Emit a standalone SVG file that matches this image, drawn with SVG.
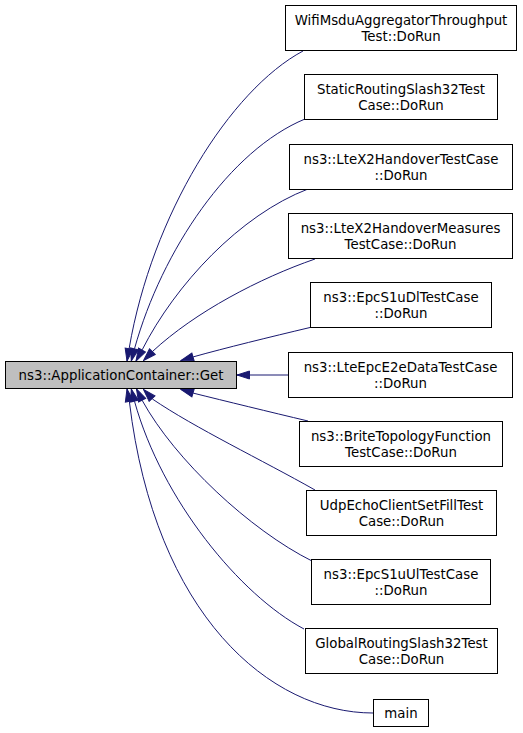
<svg xmlns="http://www.w3.org/2000/svg" width="523" height="733" viewBox="0 0 523 733">
<style>
.node rect{fill:#ffffff;stroke:#000000;stroke-width:1}
.node.root rect{fill:#bfbfbf}
.node text{font-family:"DejaVu Sans","Liberation Sans",sans-serif;font-size:13.33px;text-anchor:middle;fill:#000000}
.edges path{fill:none;stroke:#191970;stroke-width:1;marker-end:url(#arr)}
</style>
<defs>
<marker id="arr" markerUnits="userSpaceOnUse" viewBox="-1 -1 14 10" markerWidth="14" markerHeight="10" refX="12.5" refY="4" orient="auto">
<path d="M0,0 L12.5,4 L0,8 Z" fill="#191970" stroke="#191970" stroke-width="1"/>
</marker>
</defs>
<rect x="0" y="0" width="523" height="733" fill="#ffffff"/>
<g id="edges" class="edges">
<path d="M303,51 C230,90 152,215 129.2,348.2 L127,361"/>
<path d="M305,119 C230,150 162,250 134.6,348.4 L131.3,361"/>
<path d="M308,189 C240,215 175,285 142.3,349.6 L136,361"/>
<path d="M315,259 C260,278 195,312 152.7,351.3 L143.5,360.5"/>
<path d="M310,327.5 C270,337 225,348 193.5,356.8 L181,360.5"/>
<path d="M288,375 L237,375"/>
<path d="M308,421 C270,412 225,401 193.5,393.2 L181,389.5"/>
<path d="M315,490 C262,460 195,428 152.4,399 L143.5,389.5"/>
<path d="M312,561 C250,530 175,460 142.3,400.6 L136.5,389"/>
<path d="M304,629 C240,595 162,500 134.6,401.6 L131.3,389"/>
<path d="M373,713 C270,713 155,615 129.4,401.8 L127,389"/>
</g>
<g id="node-root" class="node root">
<rect x="5.5" y="361.5" width="231" height="27"/>
<text x="121" y="379.7">ns3::ApplicationContainer::Get</text>
</g>
<g id="node-wifi" class="node">
<rect x="285.5" y="5.5" width="231" height="45"/>
<text x="401" y="25">WifiMsduAggregatorThroughput</text>
<text x="401" y="40.5">Test::DoRun</text>
</g>
<g id="node-static" class="node">
<rect x="304.5" y="74.5" width="193" height="45"/>
<text x="401" y="94">StaticRoutingSlash32Test</text>
<text x="401" y="109.5">Case::DoRun</text>
</g>
<g id="node-ltex2" class="node">
<rect x="289.5" y="144.5" width="223" height="45"/>
<text x="401" y="164">ns3::LteX2HandoverTestCase</text>
<text x="401" y="179.5">::DoRun</text>
</g>
<g id="node-measures" class="node">
<rect x="288.5" y="213.5" width="224" height="45"/>
<text x="400.5" y="233">ns3::LteX2HandoverMeasures</text>
<text x="400.5" y="248.5">TestCase::DoRun</text>
</g>
<g id="node-epcdl" class="node">
<rect x="310.5" y="282.5" width="181" height="45"/>
<text x="401" y="302">ns3::EpcS1uDlTestCase</text>
<text x="401" y="317.5">::DoRun</text>
</g>
<g id="node-e2e" class="node">
<rect x="288.5" y="352.5" width="224" height="45"/>
<text x="400.5" y="372">ns3::LteEpcE2eDataTestCase</text>
<text x="400.5" y="387.5">::DoRun</text>
</g>
<g id="node-brite" class="node">
<rect x="299.5" y="421.5" width="203" height="45"/>
<text x="401" y="441">ns3::BriteTopologyFunction</text>
<text x="401" y="456.5">TestCase::DoRun</text>
</g>
<g id="node-udp" class="node">
<rect x="306.5" y="490.5" width="190" height="45"/>
<text x="401.5" y="510">UdpEchoClientSetFillTest</text>
<text x="401.5" y="525.5">Case::DoRun</text>
</g>
<g id="node-epcul" class="node">
<rect x="311.5" y="559.5" width="179" height="45"/>
<text x="401" y="579">ns3::EpcS1uUlTestCase</text>
<text x="401" y="594.5">::DoRun</text>
</g>
<g id="node-global" class="node">
<rect x="305.5" y="628.5" width="192" height="45"/>
<text x="401.5" y="648">GlobalRoutingSlash32Test</text>
<text x="401.5" y="663.5">Case::DoRun</text>
</g>
<g id="node-main" class="node">
<rect x="373.5" y="699.5" width="55" height="27"/>
<text x="401" y="717.7">main</text>
</g>
</svg>
